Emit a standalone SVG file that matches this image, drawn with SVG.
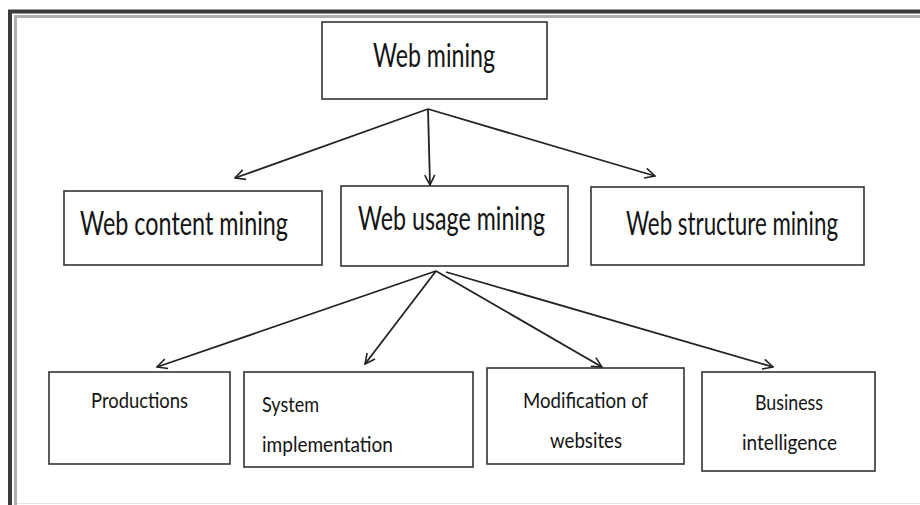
<svg xmlns="http://www.w3.org/2000/svg" width="920" height="505" viewBox="0 0 920 505">
<defs>
<style>
.box{fill:#fff;stroke:#333;stroke-width:1.6}
.t{font-family:Lato,"Open Sans","Liberation Sans",sans-serif;fill:#141414}
.big{font-size:24px}
.sm{font-size:17px}
.c{fill:none;stroke:#222;stroke-width:1.8}
</style>
<marker id="ah" viewBox="0 0 12 12" refX="11" refY="6" markerWidth="12" markerHeight="12" markerUnits="userSpaceOnUse" orient="auto">
<path d="M1,1 L11,6 L1,11" fill="none" stroke="#222" stroke-width="1.6"/>
</marker>
</defs>
<rect x="0" y="0" width="920" height="505" fill="#fff"/>
<g id="frame">
<line x1="8" y1="11.5" x2="920" y2="11.5" stroke="#3a3a3a" stroke-width="4"/>
<line x1="14" y1="16.5" x2="920" y2="16.5" stroke="#b0b0b0" stroke-width="3"/>
<line x1="10" y1="10" x2="10" y2="505" stroke="#3a3a3a" stroke-width="4"/>
<line x1="15.5" y1="15" x2="15.5" y2="505" stroke="#b0b0b0" stroke-width="3"/>
<line x1="17" y1="503.5" x2="920" y2="503.5" stroke="#e2e2e2" stroke-width="1"/>
</g>
<g id="connectors">
<line class="c" x1="428" y1="109" x2="235" y2="178" marker-end="url(#ah)"/>
<line class="c" x1="428" y1="109" x2="430" y2="185" marker-end="url(#ah)"/>
<line class="c" x1="428" y1="109" x2="655" y2="176" marker-end="url(#ah)"/>
<line class="c" x1="436" y1="271" x2="157" y2="367" marker-end="url(#ah)"/>
<line class="c" x1="436" y1="271" x2="365" y2="364" marker-end="url(#ah)"/>
<line class="c" x1="436" y1="271" x2="602" y2="367" marker-end="url(#ah)"/>
<line class="c" x1="446" y1="272" x2="773" y2="367" marker-end="url(#ah)"/>
</g>
<g id="web-mining">
<rect class="box" x="322" y="22" width="225" height="77"/>
<text class="t big" transform="translate(373 67) scale(1 1.33)" textLength="122" lengthAdjust="spacingAndGlyphs">Web mining</text>
</g>
<g id="web-content-mining">
<rect class="box" x="64" y="191" width="258" height="74"/>
<text class="t big" transform="translate(80 235) scale(1 1.33)" textLength="208" lengthAdjust="spacingAndGlyphs">Web content mining</text>
</g>
<g id="web-usage-mining">
<rect class="box" x="341" y="186" width="227" height="80"/>
<text class="t big" transform="translate(358 230) scale(1 1.33)" textLength="187" lengthAdjust="spacingAndGlyphs">Web usage mining</text>
</g>
<g id="web-structure-mining">
<rect class="box" x="591" y="187" width="273" height="78"/>
<text class="t big" transform="translate(626 235) scale(1 1.33)" textLength="212" lengthAdjust="spacingAndGlyphs">Web structure mining</text>
</g>
<g id="productions">
<rect class="box" x="49" y="372" width="181" height="92"/>
<text class="t sm" transform="translate(91 408) scale(1 1.25)" textLength="97" lengthAdjust="spacingAndGlyphs">Productions</text>
</g>
<g id="system-implementation">
<rect class="box" x="244" y="372" width="229" height="95"/>
<text class="t sm" transform="translate(262 412) scale(1 1.25)" textLength="57" lengthAdjust="spacingAndGlyphs">System</text>
<text class="t sm" transform="translate(262 452) scale(1 1.25)" textLength="131" lengthAdjust="spacingAndGlyphs">implementation</text>
</g>
<g id="modification-of-websites">
<rect class="box" x="487" y="368" width="197" height="96"/>
<text class="t sm" transform="translate(523 408) scale(1 1.25)" textLength="125" lengthAdjust="spacingAndGlyphs">Modification of</text>
<text class="t sm" transform="translate(550 448) scale(1 1.25)" textLength="72" lengthAdjust="spacingAndGlyphs">websites</text>
</g>
<g id="business-intelligence">
<rect class="box" x="702" y="372" width="173" height="99"/>
<text class="t sm" transform="translate(755 410) scale(1 1.25)" textLength="68" lengthAdjust="spacingAndGlyphs">Business</text>
<text class="t sm" transform="translate(742 450) scale(1 1.25)" textLength="95" lengthAdjust="spacingAndGlyphs">intelligence</text>
</g>
</svg>
